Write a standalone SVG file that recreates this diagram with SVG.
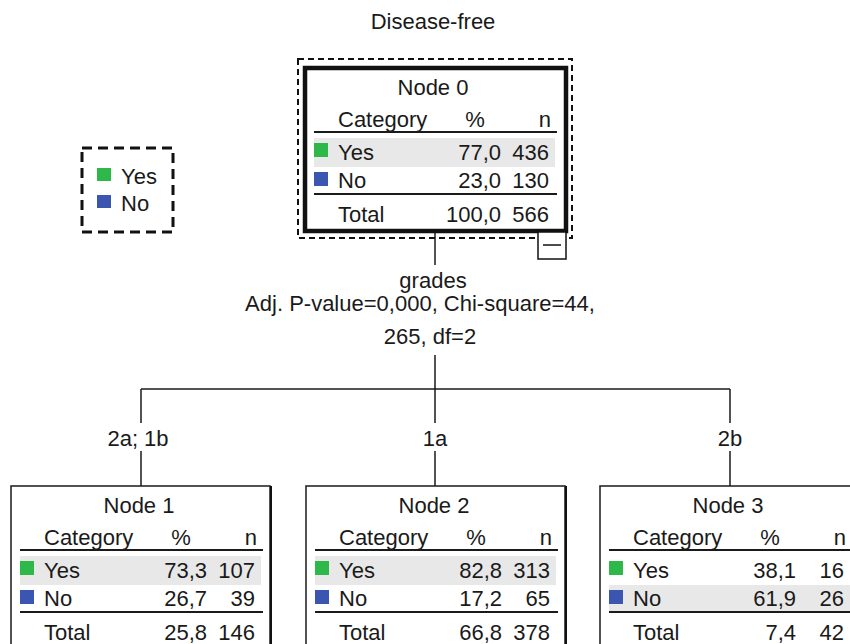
<svg xmlns="http://www.w3.org/2000/svg" width="850" height="644" viewBox="0 0 850 644">
<style>
text{font-family:"Liberation Sans",Arial,sans-serif;font-size:22px;fill:#1a1a1a}
.m{text-anchor:middle}.e{text-anchor:end}
.box{fill:#fff;stroke:#1a1a1a;stroke-width:1.5}
.rule{stroke:#1a1a1a;stroke-width:2}
.row{fill:#e8e8e8}
.g{fill:#2fb84a}.b{fill:#3a56b0}
.c{stroke:#1a1a1a;stroke-width:1.5;fill:none}
</style>
<rect width="850" height="644" fill="#fff"/>
<text class="m" x="433" y="29">Disease-free</text>

<g id="legend">
<rect x="82" y="148" width="91" height="84" fill="none" stroke="#111" stroke-width="3" stroke-dasharray="10 6"/>
<rect class="g" x="97" y="168" width="14" height="13"/>
<text x="121" y="184">Yes</text>
<rect class="b" x="97" y="195" width="14" height="13"/>
<text x="121" y="211">No</text>
</g>

<g id="connectors">
<line class="c" x1="435" y1="233" x2="435" y2="265"/>
<line class="c" x1="435" y1="355" x2="435" y2="389"/>
<line class="c" x1="141" y1="389" x2="730" y2="389"/>
<line class="c" x1="141" y1="389" x2="141" y2="423"/>
<line class="c" x1="141" y1="451" x2="141" y2="486"/>
<line class="c" x1="435" y1="389" x2="435" y2="423"/>
<line class="c" x1="435" y1="451" x2="435" y2="486"/>
<line class="c" x1="730" y1="389" x2="730" y2="423"/>
<line class="c" x1="730" y1="451" x2="730" y2="486"/>
<text class="m" x="433" y="288">grades</text>
<text class="m" x="420" y="311">Adj. P-value=0,000, Chi-square=44,</text>
<text class="m" x="430" y="344">265, df=2</text>
<text class="m" x="138" y="446">2a; 1b</text>
<text class="m" x="435" y="446">1a</text>
<text class="m" x="730" y="446">2b</text>
</g>

<g id="node0" transform="translate(305,68)">
<rect x="-7" y="-9" width="274" height="179" fill="none" stroke="#111" stroke-width="2" stroke-dasharray="6 4"/>
<rect x="0" y="0" width="261" height="163" fill="#fff" stroke="#111" stroke-width="4.5"/>
<text class="m" x="128" y="27">Node 0</text>
<text x="33" y="59">Category</text><text class="m" x="170" y="59">%</text><text class="e" x="246" y="59">n</text>
<line class="rule" x1="9" y1="64" x2="252" y2="64"/>
<rect class="row" x="9" y="70" width="241" height="29"/>
<rect class="g" x="9" y="75" width="14" height="14"/>
<text x="33" y="92">Yes</text><text class="e" x="196" y="92">77,0</text><text class="e" x="244" y="92">436</text>
<rect class="b" x="9" y="104" width="14" height="14"/>
<text x="33" y="120">No</text><text class="e" x="196" y="120">23,0</text><text class="e" x="244" y="120">130</text>
<line class="rule" x1="9" y1="126" x2="252" y2="126"/>
<text x="33" y="154">Total</text><text class="e" x="196" y="154">100,0</text><text class="e" x="244" y="154">566</text>
<rect x="233" y="164" width="28" height="27" fill="#fff" stroke="#111" stroke-width="1.5"/>
<line x1="238" y1="177" x2="256" y2="177" stroke="#111" stroke-width="1.5"/>
</g>

<g id="node1" transform="translate(11,486)">
<rect class="box" x="0" y="0" width="259" height="170"/>
<line x1="260" y1="0" x2="260" y2="170" stroke="#111" stroke-width="2"/>
<text class="m" x="128" y="27">Node 1</text>
<text x="33" y="59">Category</text><text class="m" x="170" y="59">%</text><text class="e" x="246" y="59">n</text>
<line class="rule" x1="9" y1="64" x2="252" y2="64"/>
<rect class="row" x="9" y="70" width="241" height="29"/>
<rect class="g" x="9" y="75" width="14" height="14"/>
<text x="33" y="92">Yes</text><text class="e" x="196" y="92">73,3</text><text class="e" x="244" y="92">107</text>
<rect class="b" x="9" y="104" width="14" height="14"/>
<text x="33" y="120">No</text><text class="e" x="196" y="120">26,7</text><text class="e" x="244" y="120">39</text>
<line class="rule" x1="9" y1="126" x2="252" y2="126"/>
<text x="33" y="154">Total</text><text class="e" x="196" y="154">25,8</text><text class="e" x="244" y="154">146</text>
</g>

<g id="node2" transform="translate(306,486)">
<rect class="box" x="0" y="0" width="259" height="170"/>
<line x1="260" y1="0" x2="260" y2="170" stroke="#111" stroke-width="2"/>
<text class="m" x="128" y="27">Node 2</text>
<text x="33" y="59">Category</text><text class="m" x="170" y="59">%</text><text class="e" x="246" y="59">n</text>
<line class="rule" x1="9" y1="64" x2="252" y2="64"/>
<rect class="row" x="9" y="70" width="241" height="29"/>
<rect class="g" x="9" y="75" width="14" height="14"/>
<text x="33" y="92">Yes</text><text class="e" x="196" y="92">82,8</text><text class="e" x="244" y="92">313</text>
<rect class="b" x="9" y="104" width="14" height="14"/>
<text x="33" y="120">No</text><text class="e" x="196" y="120">17,2</text><text class="e" x="244" y="120">65</text>
<line class="rule" x1="9" y1="126" x2="252" y2="126"/>
<text x="33" y="154">Total</text><text class="e" x="196" y="154">66,8</text><text class="e" x="244" y="154">378</text>
</g>

<g id="node3" transform="translate(600,486)">
<rect class="box" x="0" y="0" width="259" height="170"/>
<text class="m" x="128" y="27">Node 3</text>
<text x="33" y="59">Category</text><text class="m" x="170" y="59">%</text><text class="e" x="246" y="59">n</text>
<line class="rule" x1="9" y1="64" x2="252" y2="64"/>
<rect class="row" x="9" y="99" width="241" height="27"/>
<rect class="g" x="9" y="75" width="14" height="14"/>
<text x="33" y="92">Yes</text><text class="e" x="196" y="92">38,1</text><text class="e" x="244" y="92">16</text>
<rect class="b" x="9" y="104" width="14" height="14"/>
<text x="33" y="120">No</text><text class="e" x="196" y="120">61,9</text><text class="e" x="244" y="120">26</text>
<line class="rule" x1="9" y1="126" x2="252" y2="126"/>
<text x="33" y="154">Total</text><text class="e" x="196" y="154">7,4</text><text class="e" x="244" y="154">42</text>
</g>
</svg>
